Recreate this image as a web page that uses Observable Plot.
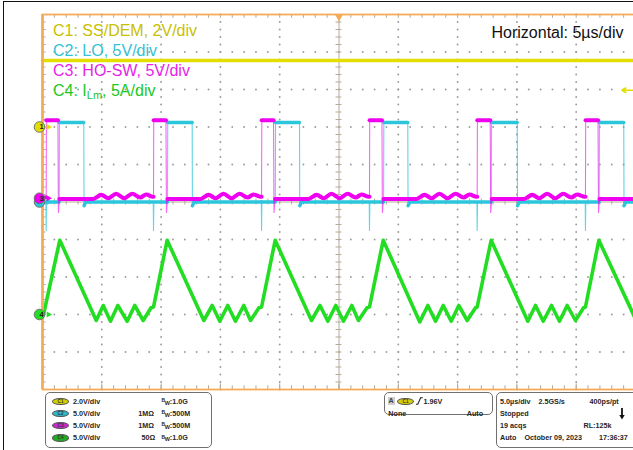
<!DOCTYPE html>
<html><head><meta charset="utf-8">
<script src="https://cdn.jsdelivr.net/npm/d3@7"></script>
<script src="https://cdn.jsdelivr.net/npm/@observablehq/plot@0.6"></script>
<style>
html,body{margin:0;padding:0;background:#fff;overflow:hidden;}
#wrap{position:relative;width:633px;height:450px;overflow:hidden;background:#fff;font-family:Arial,"Liberation Sans",sans-serif;}
#chart{position:absolute;left:0;top:0;}
#frame{position:absolute;left:3px;top:1px;width:700px;height:500px;border-top:1.5px solid #111;border-left:1.5px solid #111;pointer-events:none;}
.lbl{position:absolute;font-size:16px;white-space:nowrap;line-height:16px;}
.box{position:absolute;border:1px solid #707070;border-radius:5px;background:#fff;box-sizing:border-box;}
.t{position:absolute;font-size:7.2px;font-weight:bold;color:#262626;white-space:nowrap;line-height:7.2px;}
.pill{position:absolute;width:17px;height:7.5px;border-radius:50%;border:0.6px solid #555;box-sizing:border-box;font-size:4.6px;font-weight:bold;color:#333;text-align:center;line-height:6.5px;}
</style></head>
<body><div id="wrap"><div id="chart"></div></div>
<script>
// ---------- scope settings ----------
const channels = ["C1", "C2", "C3", "C4"];
const chLegend = ["C1: SS/DEM, 2V/div", "C2: LO, 5V/div", "C3: HO-SW, 5V/div", "C4: I<span style=\"font-size:11px;vertical-align:-3px\">Lm</span>, 5A/div"];
const chUnitsPerDiv = [2, 5, 5, 5];          // V/div or A/div
const chOffsetDiv = [2, 0, 0.1, -3];          // ground marker position (divisions)
const chTrace = ["#e4de00", "#2cc6dc", "#f000f0", "#22dd22"];
const chText = ["#c8c000", "#33c2d4", "#e81ee8", "#1ec81e"];
const chPill = ["#d6cf00", "#2eb8c8", "#c82ac8", "#22aa22"];
const chScaleLabel = ["2.0V/div", "5.0V/div", "5.0V/div", "5.0V/div"];
const chImpedance = ["", "1M\u03A9", "1M\u03A9", "50\u03A9"];
const chBandwidth = ["1.0G", "500M", "500M", "1.0G"];
const triggerLevel = 1.96; // V on C1
const timeWindow = [-25, 25]; // µs, 5 µs/div

// ---------- waveforms: [time µs, value] ----------
const c1 = [[-25, 3.55], [25, 3.55]];
const c2 = [
  [-25.0, 0.0], [-24.71, 0.0], [-24.69, -3.8], [-24.66, 0.0], [-23.59, 0.0], [-23.57, 10.6], [-21.52, 10.6], [-21.50, -0.5], [-21.35, 0.0],
  [-15.66, 0.0], [-15.64, -3.8], [-15.61, 0.0], [-14.46, 0.0], [-14.44, 10.6], [-12.38, 10.6], [-12.36, -0.5], [-12.21, 0.0],
  [-6.55, 0.0], [-6.53, -3.8], [-6.50, 0.0], [-5.37, 0.0], [-5.35, 10.6], [-3.33, 10.6], [-3.31, -0.5], [-3.16, 0.0],
  [2.55, 0.0], [2.57, -3.8], [2.60, 0.0], [3.76, 0.0], [3.78, 10.6], [5.80, 10.6], [5.82, -0.5], [5.97, 0.0],
  [11.63, 0.0], [11.65, -3.8], [11.68, 0.0], [12.84, 0.0], [12.86, 10.6], [15.03, 10.6], [15.05, -0.5], [15.20, 0.0],
  [20.76, 0.0], [20.78, -3.8], [20.81, 0.0], [21.94, 0.0], [21.96, 10.6], [24.01, 10.6], [24.03, -0.5], [24.18, 0.0], [25.0, 0.0]
];
const c3 = [
  [-25.0, 0.1], [-24.69, 0.1], [-24.67, 10.4], [-23.70, 10.4], [-23.66, -1.9], [-23.57, -0.1], [-20.73, -0.1], [-20.05, 0.45], [-19.46, 0.0], [-18.79, 0.6], [-18.11, 0.0], [-17.44, 0.6], [-16.76, 0.1], [-16.26, 0.5], [-15.69, 0.2],
  [-15.64, 0.2], [-15.62, 10.4], [-14.59, 10.4], [-14.55, -1.9], [-14.46, -0.1], [-11.68, -0.1], [-11.00, 0.45], [-10.41, 0.0], [-9.74, 0.6], [-9.06, 0.0], [-8.39, 0.6], [-7.71, 0.1], [-7.21, 0.5], [-6.58, 0.2],
  [-6.53, 0.2], [-6.51, 10.4], [-5.52, 10.4], [-5.48, -1.9], [-5.39, -0.1], [-2.57, -0.1], [-1.89, 0.45], [-1.30, 0.0], [-0.63, 0.6], [0.05, 0.0], [0.72, 0.6], [1.40, 0.1], [1.90, 0.5], [2.52, 0.2],
  [2.57, 0.2], [2.59, 10.4], [3.62, 10.4], [3.66, -1.9], [3.75, -0.1], [6.53, -0.1], [7.21, 0.45], [7.80, 0.0], [8.47, 0.6], [9.15, 0.0], [9.82, 0.6], [10.50, 0.1], [11.00, 0.5], [11.60, 0.2],
  [11.65, 0.2], [11.67, 10.4], [12.75, 10.4], [12.79, -1.9], [12.88, -0.1], [15.61, -0.1], [16.29, 0.45], [16.88, 0.0], [17.55, 0.6], [18.23, 0.0], [18.90, 0.6], [19.58, 0.1], [20.08, 0.5], [20.73, 0.2],
  [20.78, 0.2], [20.80, 10.4], [21.84, 10.4], [21.88, -1.9], [21.97, -0.1], [25.0, -0.1]
];
const c4 = [
  [-24.9, 0.1], [-23.54, 9.9], [-20.47, -0.8], [-19.88, 1.2], [-19.27, -0.9], [-18.65, 1.2], [-17.86, -0.9], [-17.22, 1.2], [-16.51, -0.8], [-15.85, 0.9], [-15.64, 1.0],
  [-14.49, 9.9], [-11.40, -0.8], [-10.69, 1.2], [-10.05, -0.9], [-9.38, 1.2], [-8.73, -0.9], [-8.03, 1.2], [-7.46, -0.8], [-6.75, 0.9], [-6.53, 1.0],
  [-5.38, 9.9], [-2.32, -0.8], [-1.60, 1.2], [-0.94, -0.9], [-0.27, 1.2], [0.38, -0.9], [1.08, 1.2], [1.64, -0.8], [2.36, 0.9], [2.57, 1.0],
  [3.73, 9.9], [6.81, -1.0], [7.49, 1.2], [8.14, -0.9], [8.79, 1.2], [9.46, -0.9], [10.10, 1.2], [10.81, -0.8], [11.51, 0.9], [11.65, 1.0],
  [12.83, 9.9], [15.92, -0.9], [16.57, 1.2], [17.22, -0.9], [17.92, 1.2], [18.59, -0.9], [19.24, 1.2], [19.94, -0.8], [20.62, 0.9], [20.78, 1.0],
  [21.91, 9.9], [25.0, -0.6]
];

// ---------- status panel texts ----------
const triggerTexts = ["A", "C1", "1.96V", "None", "Auto"];
const acqTexts = [["5.0\u00B5s/div", "2.5GS/s", "400ps/pt"], ["Stopped"], ["19 acqs", "RL:125k"], ["Auto", "October 09, 2023", "17:36:37"]];

// ---------- helpers ----------
const toDiv = (k) => (v) => chOffsetDiv[k] + v / chUnitsPerDiv[k];
function segIds(data, thr) {
  let id = 0, prev = null;
  return data.map(([, v]) => { const s = v > thr; if (prev !== null && s !== prev) id++; prev = s; return id; });
}
const ORANGE = "#f5aa55";
const GRID = "#9c9c9c";
const AXIS = "#b5aa98";

const minorX = d3.range(-25, 25.001, 1);
const minorY = d3.range(-25, 25.001, 1).map(v => v / 5);
const innerMajX = [-20, -15, -10, -5, 5, 10, 15, 20];
const innerMajY = [-4, -3, -2, -1, 1, 2, 3, 4];
const gridDots = [...d3.cross(innerMajX, minorY), ...d3.cross(minorX, innerMajY)].map(([x, y]) => ({x, y}));
const majorX = [-25, -20, -15, -10, -5, 0, 5, 10, 15, 20, 25];

const markers = [
  {ch: "1", y: chOffsetDiv[0], fill: chTrace[0]},
  {ch: "2", y: chOffsetDiv[1], fill: chTrace[1]},
  {ch: "3", y: chOffsetDiv[2], fill: chTrace[2]},
  {ch: "4", y: chOffsetDiv[3], fill: chTrace[3]}
];
const labelledMarkers = markers.filter(m => m.ch !== "2"); // "2" is hidden under "3"

const X = d => d[0];
const thickY = (k) => d => (d[1] < -1 ? NaN : toDiv(k)(d[1]));

const plot = Plot.plot({
  width: 640, height: 392,
  marginLeft: 42, marginRight: 5, marginTop: 14, marginBottom: 3,
  x: {domain: timeWindow, axis: null},
  y: {domain: [-5, 5], axis: null},
  color: {type: "identity"},
  style: {background: "transparent", maxWidth: "none", overflow: "visible", fontFamily: "Arial, 'Liberation Sans', sans-serif"},
  marks: [
    // graticule
    Plot.dot(gridDots, {x: "x", y: "y", r: 0.95, fill: GRID}),
    Plot.ruleX([0], {stroke: AXIS, strokeWidth: 1}),
    Plot.ruleY([0], {stroke: AXIS, strokeWidth: 1}),
    Plot.ruleY(minorY, {y: d => d, x1: -0.25, x2: 0.25, stroke: AXIS}),
    Plot.ruleX(minorX, {x: d => d, y1: -0.08, y2: 0.08, stroke: AXIS}),
    Plot.ruleX(minorX, {x: d => d, y1: 5, y2: 4.9, stroke: AXIS}),
    Plot.ruleX(minorX, {x: d => d, y1: -5, y2: -4.9, stroke: AXIS}),
    Plot.ruleX(majorX, {x: d => d, y1: -5, y2: -4.85, stroke: AXIS}),
    Plot.ruleY(minorY, {y: d => d, x1: -25, x2: -24.7, stroke: AXIS}),
    // traces
    Plot.line(c1, {x: X, y: d => toDiv(0)(d[1]), stroke: chTrace[0], strokeWidth: 3.6}),
    Plot.line(c4, {x: X, y: d => toDiv(3)(d[1]), stroke: chTrace[3], strokeWidth: 3.6}),
    Plot.line(c2, {x: X, y: d => toDiv(1)(d[1]), stroke: chTrace[1], strokeWidth: 1.1, strokeOpacity: 0.75}),
    Plot.line(c2, {x: X, y: thickY(1), z: segIds(c2, 5), stroke: chTrace[1], strokeWidth: 3.4}),
    Plot.line(c3, {x: X, y: d => toDiv(2)(d[1]), stroke: chTrace[2], strokeWidth: 1.1, strokeOpacity: 0.6}),
    Plot.line(c3, {x: X, y: thickY(2), z: segIds(c3, 5), curve: "monotone-x", stroke: chTrace[2], strokeWidth: 4.2}),
    // frame
    Plot.frame({stroke: ORANGE, strokeWidth: 1.8}),
    Plot.ruleX([timeWindow[0]], {stroke: ORANGE, strokeWidth: 2.6}),
    // trigger markers
    Plot.dot([0], {x: d => d, frameAnchor: "top", symbol: "triangle", rotate: 180, r: 3.2, fill: ORANGE, dy: 2}),
    Plot.arrow([{x1: 25, x2: 23.85, y: chOffsetDiv[0] + triggerLevel / chUnitsPerDiv[0]}], {x1: "x1", x2: "x2", y1: "y", y2: "y", stroke: chTrace[0], strokeWidth: 1.6, headLength: 6}),
    // ground markers
    Plot.dot(markers, {y: "y", frameAnchor: "left", dx: 6, symbol: "triangle", rotate: 90, r: 2.3, fill: "fill"}),
    Plot.dot(markers, {y: "y", frameAnchor: "left", dx: -3, r: 5.3, fill: "fill", stroke: "#6a6a6a", strokeWidth: 0.9}),
    Plot.text(labelledMarkers, {y: "y", frameAnchor: "left", dx: -3, text: "ch", fontSize: 7.5, fontWeight: "bold", fill: "#222"})
  ]
});
const wrap = document.getElementById("wrap");
document.getElementById("chart").appendChild(plot);

function put(cls, left, top, html, style) {
  const e = document.createElement("div");
  e.className = cls;
  e.style.left = left + "px"; e.style.top = top + "px";
  if (style) Object.assign(e.style, style);
  if (html != null) e.innerHTML = html;
  wrap.appendChild(e);
  return e;
}

// channel legend
const legendBase = [36, 56, 76, 96];
channels.forEach((c, i) => put("lbl", 53, legendBase[i] - 13.5, chLegend[i], {color: chText[i]}));
put("lbl", 491.5, 38.3 - 13.5, "Horizontal: 5\u00B5s/div", {color: "#111"});

// status panel
put("box", 45, 392, null, {width: "167px", height: "56px"});
const rowC = [401.5, 413.5, 425.5, 438];
channels.forEach((c, i) => {
  put("pill", 52, rowC[i] - 3.75, c, {background: chPill[i]});
  put("t", 73, rowC[i] - 3.7, chScaleLabel[i]);
  if (chImpedance[i]) put("t", i === 3 ? 141.5 : 138.3, rowC[i] - 3.7, chImpedance[i]);
  put("t", 161.5, rowC[i] - 3.7,
    '<span style="font-size:5px;position:relative;top:-1.5px">B</span><span style="font-size:5.5px;position:relative;top:1.2px;margin-left:-0.5px">W</span>:' + chBandwidth[i]);
});

put("box", 384, 392, null, {width: "109px", height: "23px"});
put("t", 387.5, 396.5, triggerTexts[0], {background: "#d0d0d0", padding: "0.5px 1px", color: "#444"});
put("pill", 397, 397.8, triggerTexts[1], {background: chPill[0]});
wrap.insertAdjacentHTML("beforeend", '<svg style="position:absolute;left:416px;top:397px" width="7" height="8"><path d="M0,7.2 H1.8 L4.6,0.8 H6.8" fill="none" stroke="#222" stroke-width="1.1"/></svg>');
put("t", 423.5, 397.8, triggerTexts[2]);
put("t", 388.3, 409.6, triggerTexts[3]);
put("t", 466.7, 409.6, triggerTexts[4]);

put("box", 495.5, 392, null, {width: "150px", height: "56px"});
const acqX = [[500, 538.5, 589.5], [500], [500, 583.5], [500, 524.5, 599]];
acqTexts.forEach((row, r) => row.forEach((s, j) => put("t", acqX[r][j], rowC[r] - 3.7, s)));
wrap.insertAdjacentHTML("beforeend", '<svg style="position:absolute;left:619px;top:408px" width="6" height="12"><path d="M3,0 V8" stroke="#111" stroke-width="1.8"/><path d="M0.3,7 L5.7,7 L3,11.5 Z" fill="#111"/></svg>');

const fr = document.createElement("div"); fr.id = "frame"; wrap.appendChild(fr);
</script>
</body></html>
